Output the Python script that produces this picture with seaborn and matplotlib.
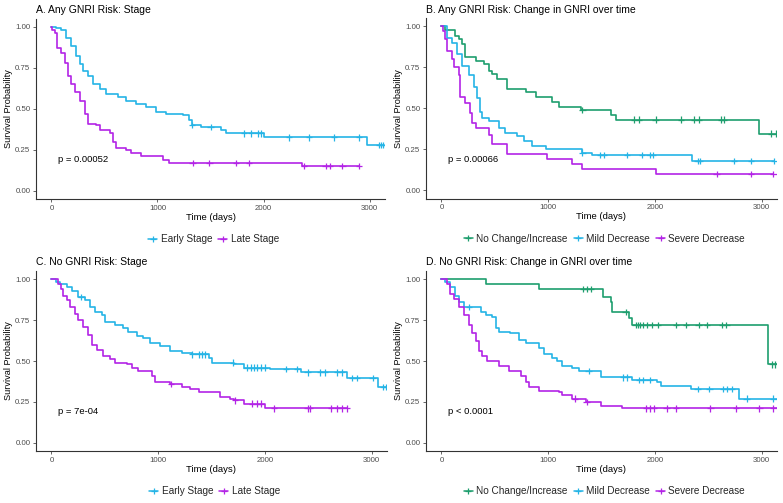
import numpy as np
import pandas as pd
import matplotlib
matplotlib.use("Agg")
import matplotlib.pyplot as plt
from matplotlib.lines import Line2D
import seaborn as sns

sns.set_theme(style="ticks")
plt.rcParams['font.family'] = ['Liberation Sans', 'DejaVu Sans']

GREEN = "#1E9E6E"
CYAN = "#25B4E6"
PURPLE = "#B324E6"

# ---------------- Panel A: Any GNRI Risk, Stage ----------------
a_early_t = [0, 47, 94, 141, 188, 230, 266, 298, 345, 392, 455, 517, 627, 705, 800, 893, 987, 1082, 1238, 1300, 1326, 1411, 1599, 1646, 2006, 2978, 3140]
a_early_s = [1.00, 0.99, 0.98, 0.93, 0.88, 0.82, 0.77, 0.73, 0.70, 0.65, 0.62, 0.59, 0.57, 0.55, 0.53, 0.51, 0.48, 0.47, 0.46, 0.43, 0.40, 0.39, 0.37, 0.35, 0.325, 0.28, 0.28]
a_early_c = [1326, 1500, 1818, 1881, 1944, 1975, 2241, 2430, 2665, 2900, 3088, 3110, 3130]
a_late_t = [0, 5, 31, 53, 94, 125, 157, 188, 219, 266, 313, 345, 423, 455, 549, 580, 611, 705, 752, 846, 1050, 1113, 2360, 2900]
a_late_s = [1.00, 0.98, 0.96, 0.87, 0.84, 0.78, 0.70, 0.65, 0.60, 0.55, 0.47, 0.41, 0.40, 0.37, 0.35, 0.30, 0.26, 0.25, 0.23, 0.21, 0.19, 0.17, 0.15, 0.15]
a_late_c = [1332, 1489, 1740, 1865, 2383, 2586, 2624, 2743, 2900]

# ---------------- Panel B: Any GNRI Risk, Change in GNRI ----------------
b_none_t = [0, 37, 131, 163, 194, 225, 319, 397, 444, 475, 522, 616, 788, 882, 1038, 1101, 1304, 1586, 1633, 2978, 3150]
b_none_s = [1.00, 0.975, 0.94, 0.92, 0.89, 0.81, 0.79, 0.77, 0.73, 0.71, 0.68, 0.62, 0.60, 0.57, 0.54, 0.51, 0.49, 0.46, 0.43, 0.345, 0.345]
b_none_c = [1320, 1805, 1852, 2008, 2243, 2368, 2415, 2618, 2650, 3090, 3140]
b_mild_t = [0, 53, 100, 147, 194, 257, 303, 335, 357, 382, 444, 538, 600, 710, 773, 851, 976, 1314, 1414, 2352, 3120]
b_mild_s = [1.00, 0.93, 0.90, 0.83, 0.76, 0.70, 0.63, 0.56, 0.48, 0.44, 0.42, 0.38, 0.35, 0.33, 0.30, 0.27, 0.25, 0.23, 0.215, 0.18, 0.18]
b_mild_c = [1320, 1490, 1520, 1740, 1880, 1950, 1980, 2400, 2420, 2740, 2900, 3120]
b_sev_t = [0, 12, 37, 53, 100, 116, 163, 178, 225, 272, 288, 319, 444, 475, 616, 992, 1226, 1314, 2008, 3110]
b_sev_s = [1.00, 0.97, 0.92, 0.85, 0.80, 0.75, 0.70, 0.57, 0.53, 0.47, 0.41, 0.38, 0.34, 0.28, 0.22, 0.19, 0.16, 0.13, 0.10, 0.10]
b_sev_c = [2580, 2900, 3110]

# ---------------- Panel C: No GNRI Risk, Stage ----------------
c_early_t = [0, 47, 78, 141, 188, 251, 313, 360, 407, 470, 502, 596, 674, 721, 800, 862, 925, 1019, 1113, 1223, 1317, 1474, 1505, 1709, 1803, 2053, 2335, 2774, 3060, 3150]
c_early_s = [1.00, 0.98, 0.97, 0.95, 0.93, 0.89, 0.87, 0.83, 0.80, 0.78, 0.74, 0.72, 0.70, 0.68, 0.65, 0.64, 0.61, 0.59, 0.56, 0.55, 0.54, 0.52, 0.49, 0.48, 0.46, 0.45, 0.43, 0.395, 0.34, 0.34]
c_early_c = [280, 1320, 1380, 1410, 1440, 1700, 1830, 1870, 1900, 1930, 1960, 2000, 2200, 2300, 2400, 2520, 2560, 2680, 2720, 2820, 2860, 3010, 3110, 3140]
c_late_t = [0, 63, 94, 110, 141, 172, 219, 251, 298, 345, 376, 423, 486, 549, 596, 705, 752, 815, 940, 972, 1113, 1223, 1301, 1380, 1583, 1677, 1709, 1803, 2006, 2770]
c_late_s = [1.00, 0.97, 0.94, 0.90, 0.87, 0.83, 0.79, 0.75, 0.71, 0.66, 0.60, 0.57, 0.53, 0.51, 0.49, 0.48, 0.46, 0.44, 0.41, 0.37, 0.36, 0.34, 0.33, 0.31, 0.28, 0.27, 0.26, 0.24, 0.21, 0.21]
c_late_c = [1120, 1720, 1880, 1930, 1960, 2085, 2400, 2420, 2620, 2680, 2720, 2770]

# ---------------- Panel D: No GNRI Risk, Change in GNRI ----------------
d_none_t = [0, 413, 913, 1514, 1586, 1601, 1758, 1790, 3056, 3150]
d_none_s = [1.00, 0.97, 0.94, 0.89, 0.86, 0.80, 0.76, 0.72, 0.48, 0.48]
d_none_c = [1330, 1360, 1400, 1727, 1820, 1840, 1860, 1890, 1930, 1970, 2030, 2200, 2290, 2410, 2490, 2630, 2670, 3100, 3130]
d_mild_t = [0, 37, 84, 131, 163, 210, 241, 366, 413, 475, 507, 538, 647, 726, 788, 913, 960, 1038, 1085, 1132, 1226, 1289, 1492, 1789, 2024, 2055, 2337, 2790, 3150]
d_mild_s = [1.00, 0.98, 0.95, 0.90, 0.86, 0.83, 0.83, 0.80, 0.78, 0.77, 0.70, 0.68, 0.67, 0.63, 0.61, 0.58, 0.54, 0.52, 0.50, 0.47, 0.46, 0.44, 0.40, 0.385, 0.37, 0.35, 0.33, 0.27, 0.27]
d_mild_c = [260, 1380, 1700, 1740, 1850, 1890, 1950, 2400, 2510, 2640, 2680, 2720, 2860, 3110]
d_sev_t = [0, 53, 84, 116, 163, 210, 257, 288, 319, 350, 382, 429, 538, 632, 741, 788, 820, 913, 1101, 1132, 1226, 1351, 1492, 1695, 3150]
d_sev_s = [1.00, 0.97, 0.91, 0.88, 0.83, 0.78, 0.72, 0.67, 0.62, 0.56, 0.53, 0.50, 0.47, 0.44, 0.41, 0.37, 0.34, 0.315, 0.31, 0.29, 0.27, 0.25, 0.225, 0.21, 0.21]
d_sev_c = [1250, 1360, 1920, 1950, 1990, 2110, 2200, 2520, 2760, 2980, 3110]

panels = [
    dict(title="A. Any GNRI Risk: Stage", p="p = 0.00052",
         groups=[("Early Stage", a_early_t, a_early_s, a_early_c, CYAN),
                 ("Late Stage", a_late_t, a_late_s, a_late_c, PURPLE)],
         box=(36, 18.5, 349, 180.5), title_y=10),
    dict(title="B. Any GNRI Risk: Change in GNRI over time", p="p = 0.00066",
         groups=[("No Change/Increase", b_none_t, b_none_s, b_none_c, GREEN),
                 ("Mild Decrease", b_mild_t, b_mild_s, b_mild_c, CYAN),
                 ("Severe Decrease", b_sev_t, b_sev_s, b_sev_c, PURPLE)],
         box=(426, 18, 351, 180.5), title_y=10),
    dict(title="C. No GNRI Risk: Stage", p="p = 7e-04",
         groups=[("Early Stage", c_early_t, c_early_s, c_early_c, CYAN),
                 ("Late Stage", c_late_t, c_late_s, c_late_c, PURPLE)],
         box=(36, 271, 351, 180), title_y=262),
    dict(title="D. No GNRI Risk: Change in GNRI over time", p="p < 0.0001",
         groups=[("No Change/Increase", d_none_t, d_none_s, d_none_c, GREEN),
                 ("Mild Decrease", d_mild_t, d_mild_s, d_mild_c, CYAN),
                 ("Severe Decrease", d_sev_t, d_sev_s, d_sev_c, PURPLE)],
         box=(426, 271, 351, 180), title_y=262),
]

W, H = 783, 503
fig = plt.figure(figsize=(W / 100, H / 100), dpi=100)
TXT = "#000000"
TICK = "#4D4D4D"

for pan in panels:
    l, t, w, h = pan["box"]
    ax = fig.add_axes([l / W, 1 - (t + h) / H, w / W, h / H])
    rows, cens = [], []
    for name, tt, ss, cc, col in pan["groups"]:
        assert len(tt) == len(ss)
        for a, b in zip(tt, ss):
            rows.append((name, a, b))
        tt_a, ss_a = np.array(tt), np.array(ss)
        for c in cc:
            idx = np.searchsorted(tt_a, c, side="right") - 1
            cens.append((name, c, ss_a[idx]))
    df = pd.DataFrame(rows, columns=["group", "time", "surv"])
    dc = pd.DataFrame(cens, columns=["group", "time", "surv"])
    pal = {g[0]: g[4] for g in pan["groups"]}
    order = [g[0] for g in pan["groups"]]
    sns.lineplot(data=df, x="time", y="surv", hue="group", hue_order=order,
                 palette=pal, drawstyle="steps-post", linewidth=1.2,
                 estimator=None, sort=False, legend=False, ax=ax)
    sns.scatterplot(data=dc, x="time", y="surv", hue="group", hue_order=order,
                    palette=pal, marker="+", s=22, linewidth=0.9,
                    legend=False, ax=ax)
    ax.set_xlim(-145, 3145)
    ax.set_ylim(-0.05, 1.05)
    ax.set_xticks([0, 1000, 2000, 3000])
    ax.set_yticks([0, 0.25, 0.5, 0.75, 1.0])
    ax.set_yticklabels(["0.00", "0.25", "0.50", "0.75", "1.00"])
    for s in ["top", "right"]:
        ax.spines[s].set_visible(False)
    for s in ["left", "bottom"]:
        ax.spines[s].set_linewidth(0.8)
        ax.spines[s].set_color("#333333")
    ax.tick_params(axis="both", labelsize=5.7, colors=TICK, length=2.5,
                   width=0.6, pad=1.5, labelcolor="#4D4D4D")
    ax.set_xlabel("Time (days)", fontsize=6.8, color=TXT, labelpad=1)
    ax.set_ylabel("Survival Probability", fontsize=6.6, color=TXT, labelpad=1.5)
    ax.text(60, 0.19, pan["p"], fontsize=6.8, color=TXT, va="center", ha="left")
    fig.text(l / W, 1 - pan["title_y"] / H, pan["title"],
             fontsize=7.5, color=TXT, ha="left", va="center")
    handles = [Line2D([0], [0], color=g[4], lw=1.1, marker="+", markersize=4.5,
                      markeredgewidth=0.9) for g in pan["groups"]]
    labels = [g[0] for g in pan["groups"]]
    cx = (l + w / 2 + 3) / W
    cy = 1 - (t + h + 40) / H
    fig.legend(handles, labels, loc="center", bbox_to_anchor=(cx, cy),
               ncol=len(labels), frameon=False, fontsize=7.2,
               handlelength=0.9, handletextpad=0.35, columnspacing=0.6)

fig.savefig("out.png", dpi=100)
